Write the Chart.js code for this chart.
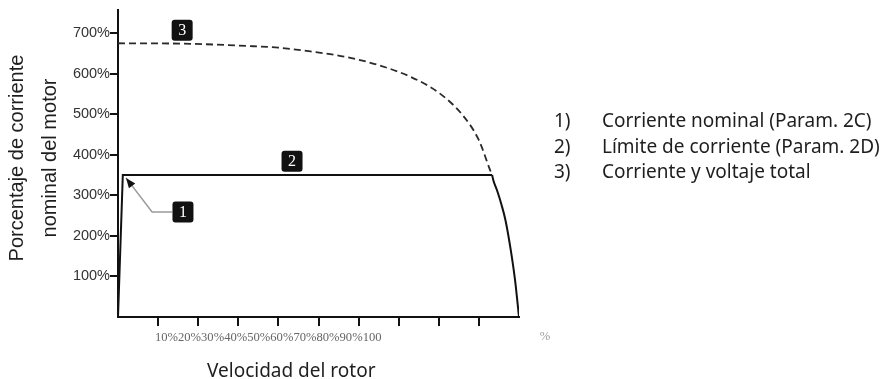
<!DOCTYPE html>
<html lang="es">
<head>
<meta charset="utf-8">
<title>Corriente del motor vs velocidad del rotor</title>
<script src="https://cdn.jsdelivr.net/npm/chart.js@4.4.1/dist/chart.umd.min.js"></script>
<style>
  html, body { margin: 0; padding: 0; background: #fff; }
  #contenedor { position: relative; width: 889px; height: 379px; }
</style>
</head>
<body>
<div id="contenedor"><canvas id="graficoMotor" width="889" height="379"></canvas></div>
<script>
// Marcas de los ejes
const xTicks = [10, 20, 30, 40, 50, 60, 70, 80, 90];
const yTicks = [100, 200, 300, 400, 500, 600, 700];
const xTickText = '10%20%30%40%50%60%70%80%90%100';

// Curvas 1 y 2: corriente nominal + límite de corriente (línea continua)
const limiteX = [0, 1.2, 93.3];
const limiteY = [0, 350, 350];
// caída final del límite de corriente
const caidaX = [93.3, 93.6, 94.6, 95.6, 96.6, 97.8, 99.0, 100];
const caidaY = [350, 337, 310, 278, 240, 174, 92, 0];

// Curva 3: corriente y voltaje total (línea discontinua)
const totalX = [0, 16, 33, 40, 48, 57, 65, 73, 80, 86, 90, 92.8, 93.3];
const totalY = [675, 674, 668, 664, 655, 641, 621, 592, 553, 497, 436, 362, 350];

// Recuadros numerados (en unidades de datos)
const marcas = [
  { texto: '3', x: 16.0, y: 707 },
  { texto: '2', x: 43.4, y: 384 },
  { texto: '1', x: 16.2, y: 259 }
];
// Flecha del recuadro 1 hacia la curva
const flecha = [[13.5, 259], [8.5, 259], [2.0, 343]];

const leyenda = [
  ['1)', 'Corriente nominal (Param. 2C)'],
  ['2)', 'Límite de corriente (Param. 2D)'],
  ['3)', 'Corriente y voltaje total']
];

const toPoints = (xs, ys) => xs.map((v, i) => ({ x: v, y: ys[i] }));

// Textos, recuadros y flecha dibujados encima del gráfico
const anotaciones = {
  id: 'anotaciones',
  afterDraw(chart) {
    const { ctx, scales: { x, y }, chartArea } = chart;
    ctx.save();

    // flecha
    const pts = flecha.map(([vx, vy]) => [x.getPixelForValue(vx), y.getPixelForValue(vy)]);
    ctx.strokeStyle = '#9a9a9a';
    ctx.lineWidth = 1.5;
    ctx.beginPath();
    pts.forEach(([px, py], i) => i ? ctx.lineTo(px, py) : ctx.moveTo(px, py));
    ctx.stroke();
    const [a, b] = pts.slice(-2);
    const ang = Math.atan2(b[1] - a[1], b[0] - a[0]);
    ctx.fillStyle = '#111';
    ctx.beginPath();
    ctx.moveTo(b[0], b[1]);
    ctx.lineTo(b[0] - 10 * Math.cos(ang) + 4 * Math.sin(ang), b[1] - 10 * Math.sin(ang) - 4 * Math.cos(ang));
    ctx.lineTo(b[0] - 10 * Math.cos(ang) - 4 * Math.sin(ang), b[1] - 10 * Math.sin(ang) + 4 * Math.cos(ang));
    ctx.closePath();
    ctx.fill();

    // recuadros numerados
    marcas.forEach(m => {
      const cx = x.getPixelForValue(m.x);
      const cy = y.getPixelForValue(m.y);
      ctx.fillStyle = '#111';
      ctx.beginPath();
      ctx.roundRect(cx - 10.5, cy - 10.5, 21, 21, 3);
      ctx.fill();
      ctx.fillStyle = '#fff';
      ctx.font = '16px "Liberation Serif"';
      ctx.textAlign = 'center';
      ctx.textBaseline = 'middle';
      ctx.fillText(m.texto, cx, cy + 1);
    });

    // etiquetas del eje X (tal como aparecen, juntas)
    ctx.font = '12.6px "Liberation Serif"';
    ctx.fillStyle = '#666';
    ctx.textAlign = 'left';
    ctx.textBaseline = 'middle';
    ctx.fillText(xTickText, x.getPixelForValue(9.2), chartArea.bottom + 21);
    ctx.fillStyle = '#999';
    ctx.fillText('%', x.getPixelForValue(105.2), chartArea.bottom + 20);

    // título eje X
    ctx.fillStyle = '#1e1e1e';
    ctx.font = '19px "Noto Sans"';
    ctx.textBaseline = 'alphabetic';
    ctx.fillText('Velocidad del rotor', 207, 377);

    // título eje Y (dos líneas, girado)
    ctx.font = '20px "Liberation Sans"';
    ctx.textAlign = 'center';
    ctx.textBaseline = 'middle';
    [['Porcentaje de corriente', 17], ['nominal del motor', 50]].forEach(([t, px]) => {
      ctx.save();
      ctx.translate(px, 158);
      ctx.rotate(-Math.PI / 2);
      ctx.fillText(t, 0, 0);
      ctx.restore();
    });

    // leyenda a la derecha
    ctx.font = '19px "Noto Sans"';
    ctx.textAlign = 'left';
    ctx.textBaseline = 'alphabetic';
    leyenda.forEach(([n, t], i) => {
      ctx.fillText(n, 554, 127 + i * 25.5);
      ctx.fillText(t, 602, 127 + i * 25.5);
    });

    ctx.restore();
  }
};

const ctx = document.getElementById('graficoMotor').getContext('2d');
new Chart(ctx, {
  type: 'line',
  data: {
    datasets: [
      {
        label: 'Límite de corriente',
        data: toPoints(limiteX, limiteY),
        borderColor: '#111',
        borderWidth: 2,
        pointRadius: 0,
        tension: 0,
        fill: false
      },
      {
        label: 'Límite de corriente (caída)',
        data: toPoints(caidaX, caidaY),
        borderColor: '#111',
        borderWidth: 2,
        pointRadius: 0,
        cubicInterpolationMode: 'monotone',
        fill: false
      },
      {
        label: 'Corriente y voltaje total',
        data: toPoints(totalX, totalY),
        borderColor: '#2a2a2a',
        borderWidth: 1.8,
        borderDash: [7, 4],
        pointRadius: 0,
        cubicInterpolationMode: 'monotone',
        fill: false
      }
    ]
  },
  options: {
    responsive: false,
    animation: false,
    devicePixelRatio: 1,
    layout: { padding: { top: 10, right: 370, left: 0, bottom: 0 } },
    plugins: {
      legend: { display: false },
      tooltip: { enabled: false }
    },
    scales: {
      x: {
        type: 'linear',
        min: 0,
        max: 100,
        afterBuildTicks: s => { s.ticks = xTicks.map(v => ({ value: v })); },
        afterFit: s => { s.height = 62; },
        ticks: { autoSkip: false, callback: () => '' },
        grid: { drawOnChartArea: false, tickLength: 9, color: '#111', lineWidth: 2 },
        border: { color: '#111', width: 2 }
      },
      y: {
        min: 0,
        max: 757,
        afterBuildTicks: s => { s.ticks = yTicks.map(v => ({ value: v })); },
        afterFit: s => { s.width = 118; },
        ticks: {
          padding: 0,
          color: '#333',
          font: { family: 'Liberation Sans', size: 14.5 },
          callback: v => v + '%'
        },
        grid: { drawOnChartArea: false, tickLength: 8, color: '#111', lineWidth: 2 },
        border: { color: '#111', width: 2 }
      }
    }
  },
  plugins: [anotaciones]
});
</script>
</body>
</html>
